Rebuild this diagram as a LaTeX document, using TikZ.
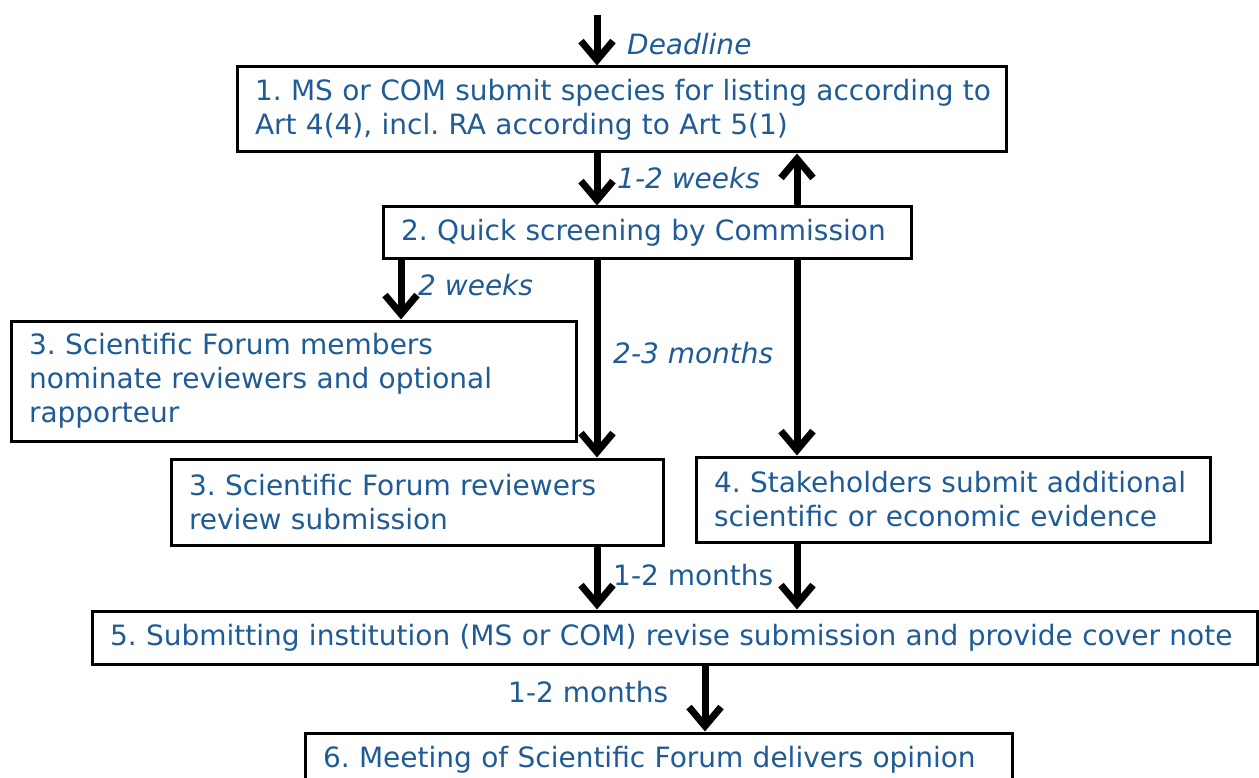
\documentclass[tikz,border=0pt]{standalone}
\usepackage{fontspec}
\setmainfont{DejaVu Sans}
\usetikzlibrary{arrows.meta}
\definecolor{txtblue}{RGB}{31,91,150}
\frenchspacing
\tikzset{
  box/.style={draw=black, line width=3pt, inner xsep=18pt, inner ysep=0pt, align=left,
    text=txtblue, font=\frenchspacing\fontsize{28}{34}\selectfont},
  flow/.style={line width=7pt, -{Straight Barb[length=19pt,width=32pt]}},
  lab/.style={text=txtblue, font=\frenchspacing\fontsize{28}{30}\selectfont, inner sep=0pt},
}
\begin{document}
\begin{tikzpicture}[x=1pt,y=-1pt]
\useasboundingbox (0,0) rectangle (1259,778);
\node[box, text width=733pt, minimum height=85pt] (b1) at (621.5,109.5)
  {\mbox{1. MS or COM submit species for listing according to}\\Art 4(4), incl. RA according to Art 5(1)};
\node[box, text width=492pt, minimum height=52pt] (b2) at (647,233)
  {2. Quick screening by Commission};
\node[box, text width=529pt, minimum height=120pt] (b3a) at (293.5,381)
  {3. Scientific Forum members\\nominate reviewers and optional\\rapporteur};
\node[box, text width=456pt, minimum height=86pt] (b3b) at (417,502)
  {3. Scientific Forum reviewers\\review submission};
\node[box, text width=478pt, minimum height=85pt] (b4) at (953,499.5)
  {4. Stakeholders submit additional\\scientific or economic evidence};
\node[box, text width=1129pt, minimum height=53pt] (b5) at (674.5,637.5)
  {\mbox{5. Submitting institution (MS or COM) revise submission and provide cover note}};
\node[box, text width=671pt, minimum height=54pt] (b6) at (658.5,760)
  {6. Meeting of Scientific Forum delivers opinion};

\coordinate (top) at (597,15);
\draw[flow] (top) -- (top|-b1.north);
\node[lab, anchor=west] (ldead) at (627,44) {\itshape Deadline};

\draw[flow] (597,0|-b1.south) -- (597,0|-b2.north);
\draw[flow] (797,0|-b2.north) -- (797,0|-b1.south);
\node[lab, anchor=west] (lw12) at (617,178) {\itshape 1-2 weeks};

\draw[flow] (401,0|-b2.south) -- (401,0|-b3a.north);
\node[lab, anchor=west] (lw2) at (418,285) {\itshape 2 weeks};

\draw[flow] (597,0|-b2.south) -- (597,0|-b3b.north);
\node[lab, anchor=west] (lm23) at (613,353) {\itshape 2-3 months};

\draw[flow] (797,0|-b2.south) -- (797,0|-b4.north);

\draw[flow] (597,0|-b3b.south) -- (597,0|-b5.north);
\draw[flow] (797,0|-b4.south) -- (797,0|-b5.north);
\node[lab, anchor=west] (lm12a) at (613,575) {1-2 months};

\draw[flow] (705,0|-b5.south) -- (705,0|-b6.north);
\node[lab, anchor=west] (lm12b) at (508,692) {1-2 months};
\end{tikzpicture}
\end{document}
